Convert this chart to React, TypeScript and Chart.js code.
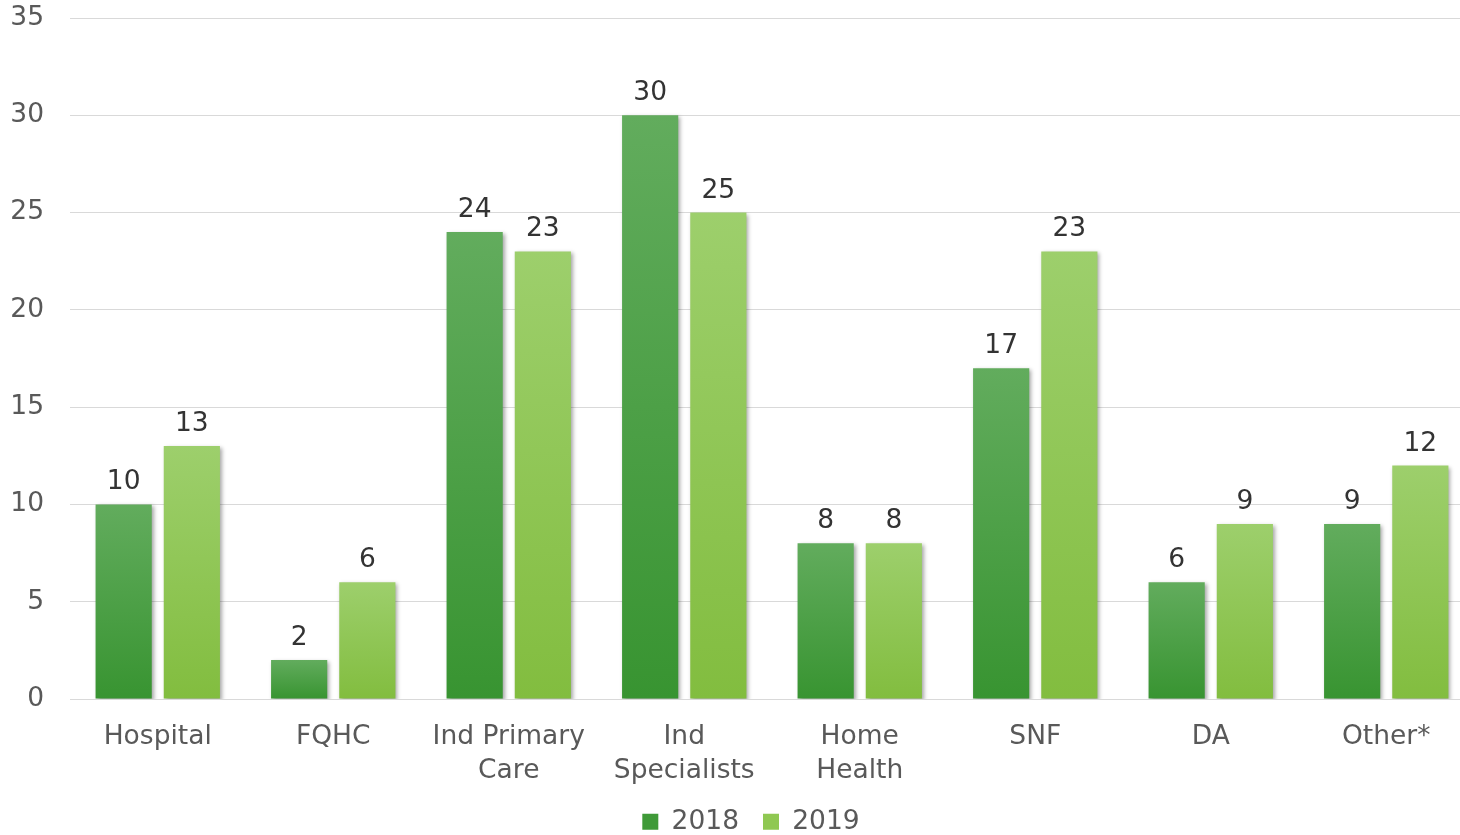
import React, { useEffect, useRef } from "react";
import { Chart, registerables } from "chart.js";

Chart.register(...registerables);

const categories: (string | string[])[] = [
  "Hospital",
  "FQHC",
  ["Ind Primary", "Care"],
  ["Ind", "Specialists"],
  ["Home", "Health"],
  "SNF",
  "DA",
  "Other*",
];
const values2018 = [10, 2, 24, 30, 8, 17, 6, 9];
const values2019 = [13, 6, 23, 25, 8, 23, 9, 12];
const yTicks = [0, 5, 10, 15, 20, 25, 30, 35];

const FONT = "'DejaVu Sans', Verdana, sans-serif";
const FS = 26.5;
const PLOT_TOP = 18;
const PLOT_BOTTOM = 699;
const CANVAS_H = 835;

function gradientFor(top: string, bottom: string) {
  return (ctx: any) => {
    const chart = ctx.chart;
    const ys = chart.scales?.y;
    if (!ys || ctx.type !== "data") return bottom;
    const v = ctx.raw as number;
    const yTop = ys.getPixelForValue(v);
    const yBot = ys.getPixelForValue(0);
    if (!isFinite(yTop) || !isFinite(yBot) || yTop === yBot) return bottom;
    const g = chart.ctx.createLinearGradient(0, yTop, 0, yBot);
    g.addColorStop(0, top);
    g.addColorStop(1, bottom);
    return g;
  };
}

const shadowPlugin = {
  id: "barShadow",
  afterLayout(chart: any) {
    const lg = chart.legend;
    if (lg) {
      const h = lg.height;
      lg.top = CANVAS_H - h + 10;
      lg.bottom = lg.top + h;
      lg.left += 8;
      lg.right += 8;
    }
    const xs = chart.scales?.x;
    if (xs) xs.bottom = CANVAS_H;
  },
  beforeDatasetsDraw(chart: any) {
    const c = chart.ctx;
    c.save();
    c.shadowColor = "rgba(0,0,0,0.35)";
    c.shadowBlur = 4;
    c.shadowOffsetX = 2;
    c.shadowOffsetY = 2;
  },
  afterDatasetsDraw(chart: any) {
    chart.ctx.restore();
    const c = chart.ctx;
    c.save();
    c.fillStyle = "#333333";
    c.font = `${FS}px ${FONT}`;
    c.textAlign = "center";
    c.textBaseline = "alphabetic";
    chart.data.datasets.forEach((ds: any, i: number) => {
      const meta = chart.getDatasetMeta(i);
      meta.data.forEach((el: any, j: number) => {
        c.fillText(String(ds.data[j]), el.x, el.y - 15);
      });
    });
    c.restore();
  },
};

export default function App() {
  const ref = useRef<HTMLCanvasElement | null>(null);
  useEffect(() => {
    document.body.style.margin = "0";
    const chart = new Chart(ref.current!, {
      type: "bar",
      data: {
        labels: categories,
        datasets: [
          {
            label: "2018",
            data: values2018,
            backgroundColor: gradientFor("#62ac5d", "#389431"),
            categoryPercentage: 0.777,
            barPercentage: 0.824,
          },
          {
            label: "2019",
            data: values2019,
            backgroundColor: gradientFor("#9dcf6c", "#82bd3f"),
            categoryPercentage: 0.777,
            barPercentage: 0.824,
          },
        ],
      },
      options: {
        animation: false,
        responsive: false,
        maintainAspectRatio: false,
        layout: { padding: { left: 12, top: PLOT_TOP, right: 0, bottom: 0 } },
        plugins: {
          tooltip: { enabled: false },
          legend: {
            position: "bottom",
            labels: {
              color: "#595959",
              font: { family: FONT, size: FS },
              boxWidth: 16,
              boxHeight: 16,
              padding: 24,
              generateLabels: (ch: any) =>
                ch.data.datasets.map((d: any, i: number) => ({
                  text: d.label,
                  fillStyle: i === 0 ? "#3f9a38" : "#8fc852",
                  strokeStyle: "rgba(0,0,0,0)",
                  lineWidth: 0,
                  fontColor: "#595959",
                  datasetIndex: i,
                })),
            },
          },
        },
        scales: {
          x: {
            grid: { display: false, drawTicks: false },
            border: { display: false },
            ticks: {
              color: "#595959",
              font: { family: FONT, size: FS, lineHeight: 1.28 },
              padding: 21,
              maxRotation: 0,
              autoSkip: false,
            },
            afterFit: (s: any) => {
              s.paddingLeft = 0;
              s.paddingRight = 0;
              s.paddingTop = 0;
              s.paddingBottom = 0;
              const lh = s.chart.legend ? s.chart.legend.height : 0;
              s.height = CANVAS_H - PLOT_BOTTOM - lh;
            },
          },
          y: {
            min: 0,
            max: 35,
            afterBuildTicks: (s: any) => {
              s.ticks = yTicks.map((v) => ({ value: v }));
            },
            afterFit: (s: any) => {
              s.width = 58;
              s.paddingTop = 0;
              s.paddingBottom = 0;
              s.paddingLeft = 0;
              s.paddingRight = 0;
            },
            grid: { color: "#d9d9d9", drawTicks: false, lineWidth: 1 },
            border: { display: false },
            ticks: {
              color: "#595959",
              font: { family: FONT, size: FS },
              padding: 26,
            },
          },
        },
      },
      plugins: [shadowPlugin],
    });
    return () => chart.destroy();
  }, []);
  return (
    <div style={{ position: "absolute", left: 0, top: 0, width: 1460, height: 835, overflow: "hidden", background: "#fff" }}>
      <canvas ref={ref} width={1474} height={835} style={{ width: 1474, height: 835, display: "block" }} />
    </div>
  );
}
